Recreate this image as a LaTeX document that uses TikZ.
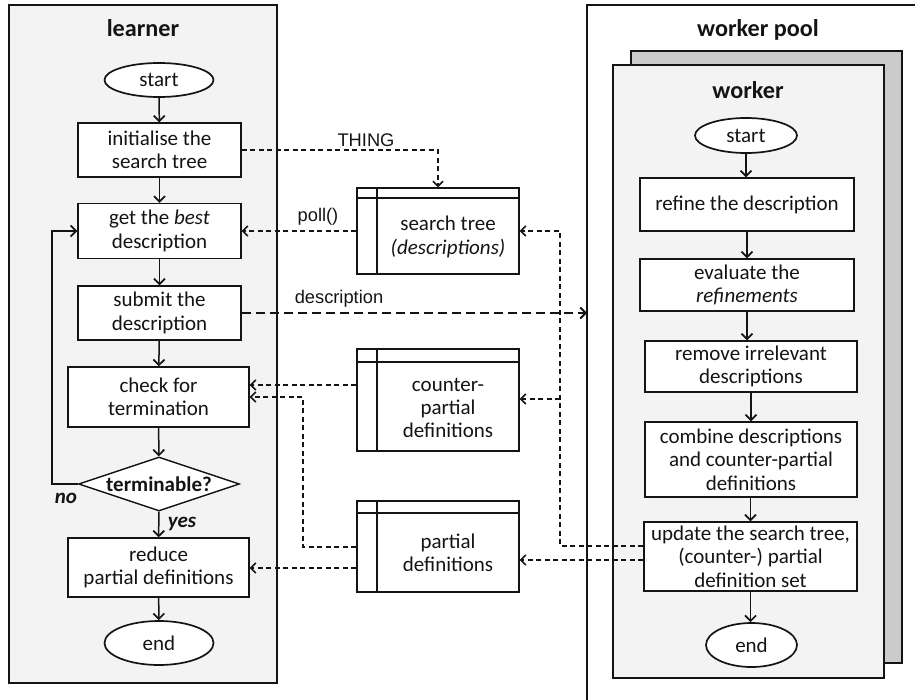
\documentclass[tikz,border=0pt]{standalone}
\usepackage{fontspec}
\setmainfont{Carlito}
\newfontfamily\arialfont{Liberation Sans}
\usetikzlibrary{shapes.geometric,arrows.meta}

\definecolor{panel}{HTML}{F3F3F3}
\definecolor{shade}{HTML}{CBCBCB}
\definecolor{ink}{HTML}{141414}

\newcommand{\bodyfont}{\fontsize{21}{23.3}\selectfont}
\newcommand{\titlefont}{\fontsize{24.2}{27}\selectfont\bfseries}
\newcommand{\labelfont}{\arialfont\fontsize{18.3}{21}\selectfont}

\tikzset{
  frame/.style={draw=ink, line width=2pt},
  proc/.style={draw=ink, fill=white, line width=1.4pt, rectangle, align=center,
    inner sep=0pt, font=\bodyfont, text=ink},
  term/.style={draw=ink, fill=white, line width=1.7pt, ellipse, inner sep=0pt,
    font=\bodyfont, text=ink},
  store/.style={draw=ink, fill=white, line width=1.4pt, rectangle, inner sep=0pt},
  storetext/.style={align=center, inner sep=0pt, font=\bodyfont, text=ink},
  flow/.style={draw=ink, line width=1.5pt,
    -{Straight Barb[length=5.5pt,width=11pt,line width=1.7pt]}},
  data/.style={draw=ink, line width=1.2pt, dash pattern=on 5pt off 3.5pt,
    -{Straight Barb[length=5pt,width=10pt,line width=1.6pt]}},
  send/.style={draw=ink, line width=2.1pt, dash pattern=on 9pt off 5pt,
    -{Straight Barb[length=5.5pt,width=11pt,line width=1.8pt]}},
  lbl/.style={font=\labelfont, text=ink, inner sep=0pt},
  ttl/.style={font=\titlefont, text=ink, inner sep=0pt},
}

\begin{document}
\begin{tikzpicture}[x=1pt, y=-1pt]
\useasboundingbox (0,0) rectangle (915,700);

% ---------------- learner ----------------
\draw[frame, fill=panel] (9,5) rectangle (277,683);
\node[ttl] (learnerT) at (143,28) {learner};

\node[term, minimum width=109pt, minimum height=34pt] (lstart) at (159,80) {start};
\node[proc, minimum width=163pt, minimum height=54pt] (init) at (159.5,150)
  {initialise the\\search tree};
\node[proc, minimum width=163pt, minimum height=55pt] (best) at (159.5,231)
  {get the \textit{best}\\description};
\node[proc, minimum width=163pt, minimum height=54pt] (submit) at (159.5,313)
  {submit the\\description};
\node[proc, minimum width=181pt, minimum height=60pt] (check) at (158.5,397)
  {check for\\termination};
\node[proc, diamond, aspect=3, minimum width=161pt, minimum height=54pt,
  font=\bodyfont\bfseries] (term) at (159,484) {terminable?};
\node[proc, minimum width=181pt, minimum height=59pt] (reduce) at (158.5,567.5)
  {reduce\\partial definitions};
\node[term, minimum width=109pt, minimum height=44pt] (lend) at (159,643) {end};

\draw[flow] (lstart) -- (init);
\draw[flow] (init) -- (best);
\draw[flow] (best) -- (submit);
\draw[flow] (submit) -- (check);
\draw[flow] (check) -- (term);
\draw[flow] (term) -- (reduce);
\draw[flow] (reduce) -- (lend);
\draw[flow] (term.west) -- (52,484) |- (best.west);
\node[font=\bodyfont\bfseries\itshape, text=ink, inner sep=0pt] (noL) at (66,498) {no};
\node[font=\bodyfont\bfseries\itshape, text=ink, inner sep=0pt] (yesL) at (182,524) {yes};

% ---------------- shared stores ----------------
\node[store, minimum width=162pt, minimum height=86pt] (stree) at (438,231) {};
\draw[ink, line width=1.4pt] (357,198) -- (519,198) (377,188) -- (377,274);
\node[storetext] (streeT) at (448,237) {search tree\\\textit{(descriptions)}};

\node[store, minimum width=162pt, minimum height=102pt] (cpd) at (438,400) {};
\draw[ink, line width=1.4pt] (357,362) -- (519,362) (377,349) -- (377,451);
\node[storetext] (cpdT) at (448,408) {counter-\\partial\\definitions};

\node[store, minimum width=162pt, minimum height=91pt] (pd) at (438,546.5) {};
\draw[ink, line width=1.4pt] (357,513) -- (519,513) (377,501) -- (377,592);
\node[storetext] (pdT) at (448,553) {partial\\definitions};

% ---------------- worker pool ----------------
\draw[frame] (925,5) -- (587,5) -- (587,710);
\node[ttl] (poolT) at (758,30) {worker pool};
\draw[ink, line width=1.7pt, fill=shade] (631,51) rectangle (902,663);
\draw[ink, line width=1.7pt, fill=panel] (613,65) rectangle (884,678);
\node[ttl] (workerT) at (748,90) {worker};

\node[term, minimum width=102pt, minimum height=35pt] (wstart) at (746,135.5) {start};
\node[proc, minimum width=214pt, minimum height=53pt] (refine) at (747,204.5)
  {refine the description};
\node[proc, minimum width=214pt, minimum height=52pt] (eval) at (747,285)
  {evaluate the\\\textit{refinements}};
\node[proc, minimum width=212pt, minimum height=51pt] (remove) at (751,366.5)
  {remove irrelevant\\descriptions};
\node[proc, minimum width=212pt, minimum height=75pt] (combine) at (751,459.5)
  {combine descriptions\\and counter-partial\\definitions};
\node[proc, minimum width=213pt, minimum height=69pt] (update) at (750.5,556.5)
  {update the search tree,\\(counter-) partial\\definition set};
\node[term, minimum width=91pt, minimum height=44pt] (wend) at (751.5,645) {end};

\draw[flow] (wstart) -- (wstart |- refine.north);
\draw[flow] (refine) -- (eval);
\draw[flow] (eval.south) -- (eval.south |- remove.north);
\draw[flow] (remove) -- (combine);
\draw[flow] (combine.south -| update) -- (update);
\draw[flow] (update) -- (update |- wend.north);

% ---------------- data exchange ----------------
\coordinate (thingCorner) at (438,150);
\draw[data] (init.east) -- (thingCorner) -- (stree.north);
\node[lbl] (thingL) at (366,140) {THING};

\draw[data] (stree.west) -- (best.east);
\node[lbl] (pollL) at (318,217) {poll()};

\coordinate (poolIn) at (587,313);
\draw[send] (submit.east) -- (poolIn);
\node[lbl] (descL) at (339,299) {description};

\coordinate (upA) at (update.west |- 0,546);
\coordinate (upB) at (update.west |- 0,560);
\draw[data] (upA) -- (560,546) -- (560,231) -- (stree.east);
\draw[data] (560,399) -- (cpd.east |- 0,399);
\draw[data] (upB) -- (pd.east |- 0,560);

\draw[data] (cpd.west |- 0,385) -- (check.east |- 0,385);
\draw[data] (pd.west |- 0,547) -- (303,547) -- (303,397) -- (check.east |- 0,397);
\draw[data] (pd.west |- 0,568) -- (reduce.east |- 0,568);
\end{tikzpicture}
\end{document}
